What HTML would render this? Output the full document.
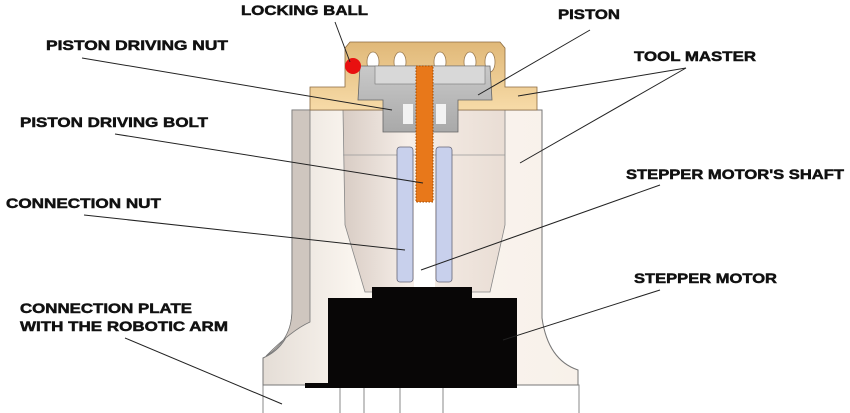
<!DOCTYPE html>
<html><head><meta charset="utf-8"><style>
html,body{margin:0;padding:0;background:#fff;width:850px;height:413px;overflow:hidden}
text{font-family:"Liberation Sans",sans-serif;font-weight:bold;font-size:14px;fill:#111;stroke:#111;stroke-width:0.5}
</style></head><body>
<svg width="850" height="413" viewBox="0 0 850 413" xmlns="http://www.w3.org/2000/svg">
<defs>
<linearGradient id="body" x1="0" x2="1"><stop offset="0" stop-color="#e4ddd6"/><stop offset="0.3" stop-color="#fbf6f0"/><stop offset="1" stop-color="#f8f1ea"/></linearGradient>
<linearGradient id="cone" x1="0" x2="1"><stop offset="0" stop-color="#d8ccc4"/><stop offset="0.4" stop-color="#f6eee8"/><stop offset="1" stop-color="#e9ddd4"/></linearGradient>
<linearGradient id="tan" x1="0" y1="0" x2="0" y2="1"><stop offset="0" stop-color="#e0b878"/><stop offset="1" stop-color="#f7dba8"/></linearGradient>
<linearGradient id="grey" x1="0" y1="0" x2="0" y2="1"><stop offset="0" stop-color="#c9c9c9"/><stop offset="1" stop-color="#a9a9a9"/></linearGradient>
</defs>
<rect x="263" y="385" width="316" height="30" fill="#fff" stroke="#888" stroke-width="1"/>
<g stroke="#888" stroke-width="1"><line x1="340" y1="388" x2="340" y2="413"/><line x1="364" y1="388" x2="364" y2="413"/><line x1="400" y1="388" x2="400" y2="413"/><line x1="443" y1="388" x2="443" y2="413"/></g>
<path d="M292 110 L542 110 L542 318 Q548 360 578 370 L578 385 L263 385 L263 358 Q292 345 292 310 Z" fill="url(#body)" stroke="#777" stroke-width="1"/>
<path d="M292 110 L310 110 L310 322 Q292 330 266 356 Q292 340 292 310 Z" fill="#cfc6bf" stroke="#777" stroke-width="0.8"/>
<path d="M343 110 L505 110 L505 225 L490 292 L365 292 L345 225 Z" fill="url(#cone)" stroke="#888" stroke-width="0.8"/>
<line x1="343" y1="155" x2="505" y2="155" stroke="#999" stroke-width="0.8"/>
<path d="M345 48 L350 42 L500 42 L505 48 L505 87 L537 87 L537 110 L310 110 L310 87 L345 87 Z" fill="url(#tan)" stroke="#8a6a40" stroke-width="0.8"/>
<g fill="#fff" stroke="#9a7a50" stroke-width="0.8">
<ellipse cx="373" cy="62" rx="6" ry="10"/><ellipse cx="400" cy="62" rx="6" ry="10"/><ellipse cx="440" cy="62" rx="6" ry="10"/><ellipse cx="470" cy="62" rx="6" ry="10"/><ellipse cx="490" cy="62" rx="5" ry="10"/>
</g>
<path d="M360 66 L490 66 L492 100 L458 100 L458 132 L383 132 L383 100 L358 100 Z" fill="url(#grey)" stroke="#666" stroke-width="0.8"/>
<rect x="375" y="66" width="110" height="18" fill="#d8d8d8" stroke="#777" stroke-width="0.6"/>
<rect x="403" y="104" width="10" height="20" fill="#f2f2f2"/><rect x="436" y="104" width="10" height="20" fill="#f2f2f2"/>
<circle cx="353" cy="66" r="8" fill="#e81010"/>
<rect x="397" y="147" width="16" height="135" rx="3" fill="#c8d0ec" stroke="#667" stroke-width="0.8"/>
<rect x="436" y="147" width="16" height="135" rx="3" fill="#c8d0ec" stroke="#667" stroke-width="0.8"/>
<rect x="414" y="200" width="21" height="88" fill="#fff"/>
<rect x="416" y="66" width="17" height="136" fill="#e8781a" stroke="#a04a00" stroke-width="1" stroke-dasharray="1.5 1.5"/>
<path d="M372 287 L472 287 L472 298 L517 298 L517 388 L305 388 L305 383 L328 383 L328 298 L372 298 Z" fill="#080606"/>
<g stroke="#222" stroke-width="1">
<line x1="335" y1="22" x2="350" y2="62"/>
<line x1="590" y1="30" x2="478" y2="95"/>
<line x1="686" y1="68" x2="518" y2="96"/>
<line x1="686" y1="68" x2="520" y2="163"/>
<line x1="82" y1="58" x2="392" y2="110"/>
<line x1="115" y1="134" x2="423" y2="183"/>
<line x1="84" y1="215" x2="405" y2="250"/>
<line x1="660" y1="185" x2="421" y2="270"/>
<line x1="660" y1="290" x2="503" y2="340"/>
<line x1="125" y1="338" x2="282" y2="404"/>
</g>
<text x="241" y="15" textLength="127" lengthAdjust="spacingAndGlyphs">LOCKING BALL</text>
<text x="558" y="19" textLength="62" lengthAdjust="spacingAndGlyphs">PISTON</text>
<text x="634" y="61" textLength="122" lengthAdjust="spacingAndGlyphs">TOOL MASTER</text>
<text x="46" y="50" textLength="182" lengthAdjust="spacingAndGlyphs">PISTON DRIVING NUT</text>
<text x="20" y="127" textLength="188" lengthAdjust="spacingAndGlyphs">PISTON DRIVING BOLT</text>
<text x="6" y="208" textLength="155" lengthAdjust="spacingAndGlyphs">CONNECTION NUT</text>
<text x="626" y="179" textLength="218" lengthAdjust="spacingAndGlyphs">STEPPER MOTOR'S SHAFT</text>
<text x="634" y="283" textLength="143" lengthAdjust="spacingAndGlyphs">STEPPER MOTOR</text>
<text x="20" y="313" textLength="172" lengthAdjust="spacingAndGlyphs">CONNECTION PLATE</text>
<text x="20" y="331" textLength="208" lengthAdjust="spacingAndGlyphs">WITH THE ROBOTIC ARM</text>
</svg>
</body></html>
